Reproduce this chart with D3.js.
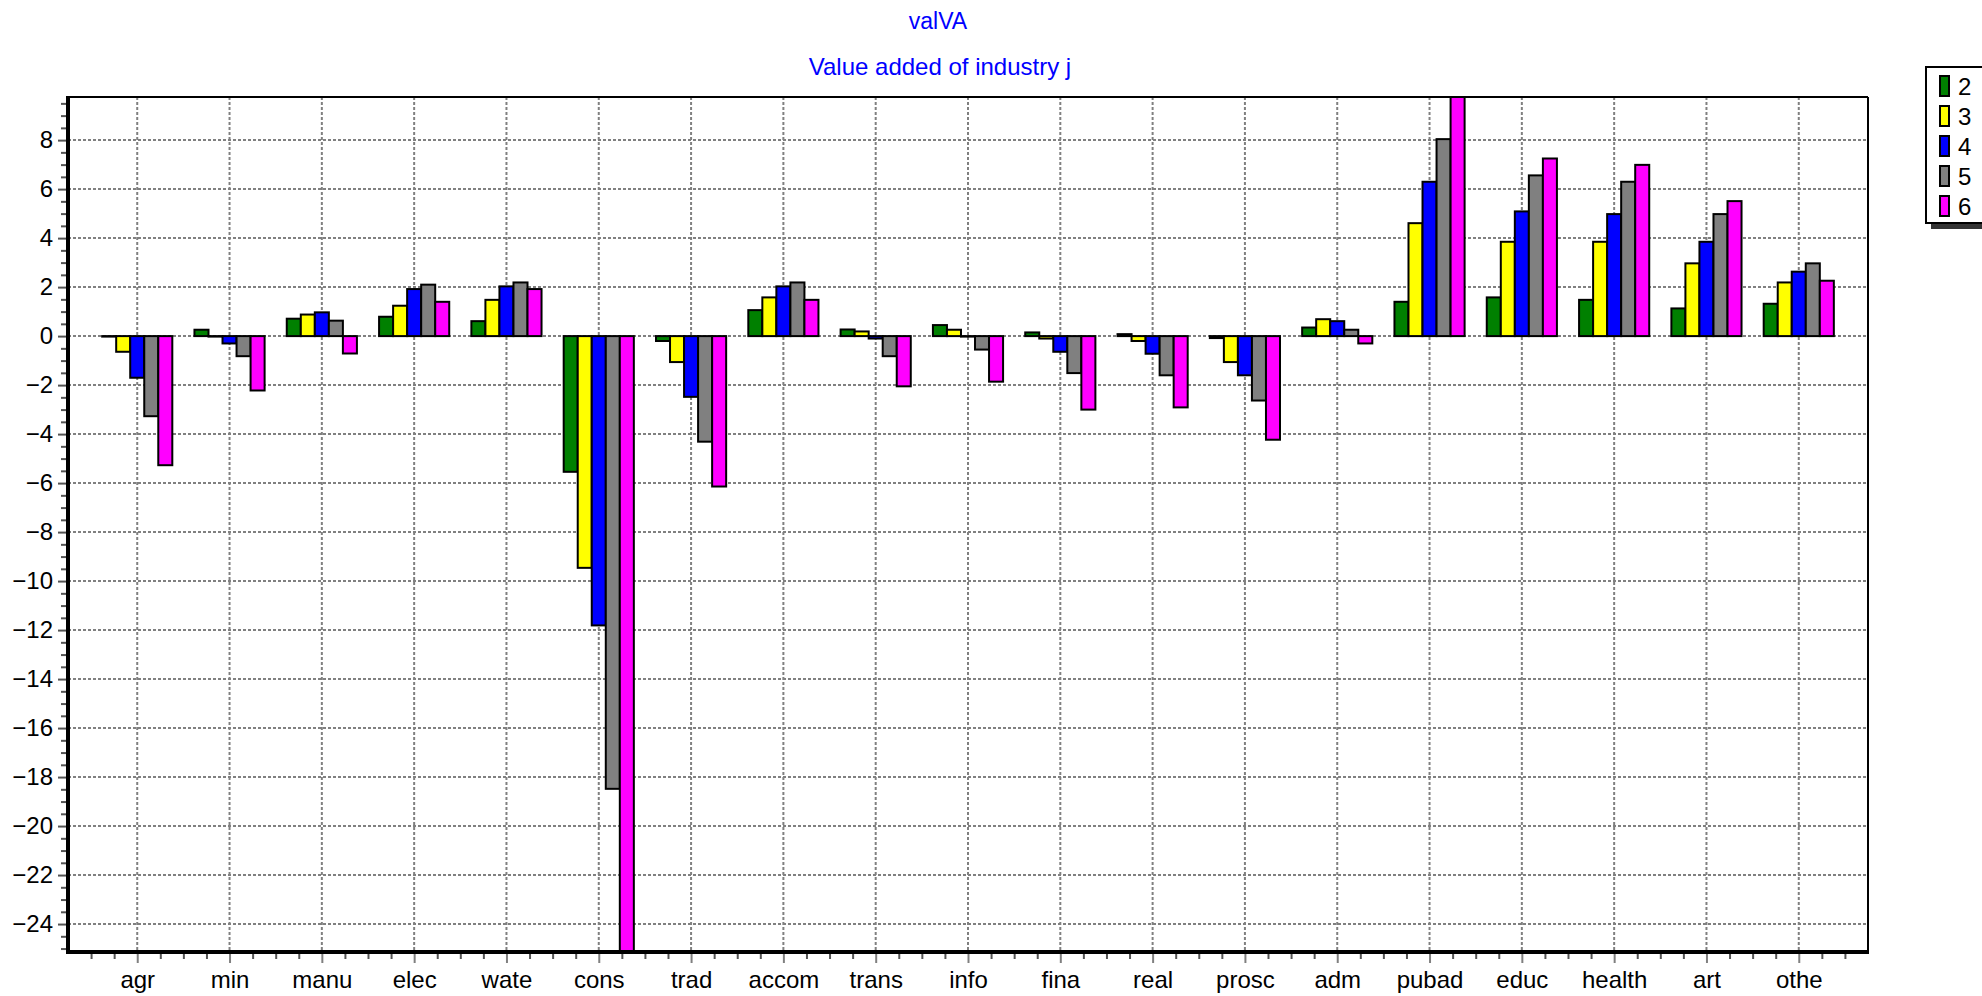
<!DOCTYPE html>
<html>
<head>
<meta charset="utf-8">
<script src="https://cdn.jsdelivr.net/npm/d3@7"></script>
<style>
  html, body { margin: 0; padding: 0; background: #fff; }
  svg { display: block; }
  text { font-family: "Liberation Sans", Arial, sans-serif; }
</style>
</head>
<body>
<svg id="chart" width="1982" height="996"></svg>
<script>
// ---- data ----
const title = "valVA";
const subtitle = "Value added of industry j";
const categories = ["agr","min","manu","elec","wate","cons","trad","accom","trans","info","fina","real","prosc","adm","pubad","educ","health","art","othe"];
const seriesNames = ["2","3","4","5","6"];
const s2 = [-0.02, 0.26, 0.71, 0.79, 0.61, -5.54, -0.20, 1.06, 0.27, 0.45, 0.15, 0.08, -0.08, 0.35, 1.40, 1.58, 1.48, 1.13, 1.32];
const s3 = [-0.64, -0.02, 0.88, 1.24, 1.48, -9.46, -1.06, 1.58, 0.19, 0.26, -0.10, -0.20, -1.06, 0.69, 4.61, 3.85, 3.85, 2.97, 2.19];
const s4 = [-1.70, -0.30, 0.97, 1.92, 2.03, -11.81, -2.48, 2.03, -0.10, -0.02, -0.64, -0.72, -1.60, 0.61, 6.30, 5.09, 4.98, 3.85, 2.63];
const s5 = [-3.27, -0.82, 0.63, 2.10, 2.19, -18.48, -4.31, 2.19, -0.82, -0.55, -1.51, -1.60, -2.63, 0.26, 8.04, 6.56, 6.30, 4.98, 2.97];
const s6 = [-5.27, -2.22, -0.71, 1.40, 1.92, -25.10, -6.14, 1.48, -2.05, -1.86, -3.00, -2.91, -4.23, -0.30, 9.76, 7.25, 6.99, 5.51, 2.26];
const yMajorTicks = [-24,-22,-20,-18,-16,-14,-12,-10,-8,-6,-4,-2,0,2,4,6,8];
const seriesColors = ["#008000", "#FFFF00", "#0000FF", "#808080", "#FF00FF"];

const series = [s2, s3, s4, s5, s6];

// ---- layout ----
const L = 68, R = 1868, T = 97, B = 951;
const svg = d3.select("#chart");

const x = d3.scaleLinear().domain([-0.75, 18.75]).range([L, R]);
const step = x(1) - x(0);
const groupW = step * 0.76;
const xs = d3.scaleBand().domain(seriesNames).range([-groupW / 2, groupW / 2]).padding(0);
const y = d3.scaleLinear().domain([-25.1, 9.76]).range([B, T]);

// clip
svg.append("defs").append("clipPath").attr("id", "plotclip")
  .append("rect").attr("x", L).attr("y", T).attr("width", R - L).attr("height", B - T);

// grid
const grid = svg.append("g");
grid.selectAll("line.h").data(yMajorTicks).join("line")
  .attr("x1", L).attr("x2", R)
  .attr("y1", d => y(d)).attr("y2", d => y(d))
  .attr("stroke", "#808080").attr("stroke-width", 2).attr("stroke-dasharray", "3,2");
grid.selectAll("line.v").data(categories).join("line")
  .attr("x1", (d, i) => x(i)).attr("x2", (d, i) => x(i))
  .attr("y1", T).attr("y2", B)
  .attr("stroke", "#808080").attr("stroke-width", 2).attr("stroke-dasharray", "3,2");

// bars
const barData = [];
series.forEach((arr, si) => arr.forEach((v, ci) => barData.push({ si, ci, v })));
svg.append("g").attr("clip-path", "url(#plotclip)")
  .selectAll("rect").data(barData).join("rect")
  .attr("x", d => x(d.ci) + xs(seriesNames[d.si]))
  .attr("width", xs.bandwidth())
  .attr("y", d => Math.min(y(d.v), y(0)))
  .attr("height", d => Math.max(Math.abs(y(d.v) - y(0)), 0.5))
  .attr("fill", d => seriesColors[d.si])
  .attr("stroke", "#000").attr("stroke-width", 2);

// y axis
const yAxis = svg.append("g").attr("transform", `translate(${L},0)`)
  .call(d3.axisLeft(y).tickValues(yMajorTicks).tickSize(10).tickPadding(5).tickFormat(d3.format("d")));
yAxis.select(".domain").remove();
yAxis.selectAll("line").attr("stroke", "#555").attr("stroke-width", 2);
yAxis.selectAll("text").attr("font-size", 24).attr("fill", "#000").attr("font-family", "Liberation Sans, Arial, sans-serif");

const yMinor = d3.range(-25, 9.76, 0.5).filter(v => v % 2 !== 0);
const yAxisMinor = svg.append("g").attr("transform", `translate(${L},0)`)
  .call(d3.axisLeft(y).tickValues(yMinor).tickSize(7).tickFormat(""));
yAxisMinor.select(".domain").remove();
yAxisMinor.selectAll("line").attr("stroke", "#555").attr("stroke-width", 2);

// x axis
const xAxis = svg.append("g").attr("transform", `translate(0,${B + 1})`)
  .call(d3.axisBottom(x).tickValues(d3.range(categories.length)).tickSize(11).tickPadding(8).tickFormat(i => categories[i]));
xAxis.select(".domain").remove();
xAxis.selectAll("line").attr("stroke", "#808080").attr("stroke-width", 2);
xAxis.selectAll("text").attr("font-size", 24).attr("fill", "#000").attr("font-family", "Liberation Sans, Arial, sans-serif");

const xMinor = d3.range(-0.5, 18.75, 0.25).filter(v => Math.abs(v - Math.round(v)) > 0.01);
const xAxisMinor = svg.append("g").attr("transform", `translate(0,${B + 1})`)
  .call(d3.axisBottom(x).tickValues(xMinor).tickSize(7).tickFormat(""));
xAxisMinor.select(".domain").remove();
xAxisMinor.selectAll("line").attr("stroke", "#555").attr("stroke-width", 2);

// frame
svg.append("line").attr("x1", L).attr("x2", R).attr("y1", T).attr("y2", T).attr("stroke", "#000").attr("stroke-width", 2);
svg.append("line").attr("x1", R).attr("x2", R).attr("y1", T).attr("y2", B + 2).attr("stroke", "#000").attr("stroke-width", 2);
svg.append("line").attr("x1", L).attr("x2", L).attr("y1", T - 1).attr("y2", B + 3).attr("stroke", "#000").attr("stroke-width", 4);
svg.append("line").attr("x1", L - 2).attr("x2", R + 1).attr("y1", B + 1).attr("y2", B + 1).attr("stroke", "#000").attr("stroke-width", 4);

// titles
svg.append("text").attr("x", 938).attr("y", 29).attr("text-anchor", "middle")
  .attr("font-size", 23).attr("fill", "#0000FF").text(title);
svg.append("text").attr("x", 940).attr("y", 75).attr("text-anchor", "middle")
  .attr("font-size", 24).attr("fill", "#0000FF").text(subtitle);

// legend
const lg = svg.append("g");
lg.append("rect").attr("x", 1931).attr("y", 72).attr("width", 80).attr("height", 157).attr("fill", "#333");
lg.append("rect").attr("x", 1926).attr("y", 67).attr("width", 80).attr("height", 156)
  .attr("fill", "#fff").attr("stroke", "#000").attr("stroke-width", 2);
const items = lg.selectAll("g.item").data(seriesNames).join("g")
  .attr("transform", (d, i) => `translate(0,${86 + i * 30})`);
items.append("rect").attr("x", 1940).attr("y", -10).attr("width", 9).attr("height", 20)
  .attr("fill", (d, i) => seriesColors[i]).attr("stroke", "#000").attr("stroke-width", 2);
items.append("text").attr("x", 1958).attr("y", 0).attr("dy", "0.36em")
  .attr("font-size", 24).attr("fill", "#000").text(d => d);
</script>
</body>
</html>
